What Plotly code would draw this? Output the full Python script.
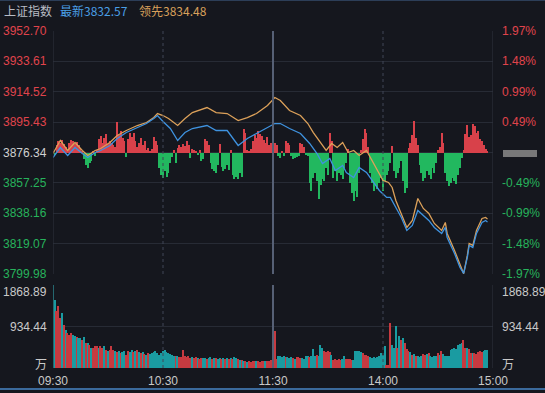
import plotly.graph_objects as go

# ---------------- data ----------------
prev_close = 3876.34
price_ticks = [3952.70, 3933.61, 3914.52, 3895.43, 3876.34, 3857.25, 3838.16, 3819.07, 3799.98]
pct_ticks = ["1.97%", "1.48%", "0.99%", "0.49%", "0.00%", "-0.49%", "-0.99%", "-1.48%", "-1.97%"]
vol_ticks = [0, 934.44, 1868.89]
vol_tick_text = ["万", "934.44", "1868.89"]
time_ticks = [0, 60, 120, 180, 240]
time_labels = ["09:30", "10:30", "11:30", "14:00", "15:00"]

# 最新 (latest index) — minute index since 09:30 (lunch break removed)
last_t = [0, 4, 8, 12, 16, 19, 23, 26, 31, 35, 40, 46, 51, 55, 57, 60, 64, 68, 72, 76, 84, 89, 95,
          101, 106, 111, 117, 121, 124, 129, 135, 140, 144, 147, 151, 154, 158, 160, 164, 167, 171,
          175, 178, 182, 184, 187, 190, 193, 196, 199, 202, 205, 208, 212, 214, 215, 219, 222, 224,
          226, 227, 229, 231, 234, 236, 237]
last_v = [3873.20, 3879.48, 3874.46, 3879.48, 3875.71, 3873.20, 3876.34, 3877.60, 3880.74, 3885.13,
          3888.90, 3892.04, 3894.55, 3897.69, 3899.58, 3895.81, 3891.41, 3883.88, 3888.90, 3891.41,
          3893.30, 3890.16, 3890.16, 3880.74, 3885.13, 3888.27, 3892.04, 3894.55, 3894.55, 3891.41,
          3888.27, 3882.00, 3875.71, 3869.43, 3872.57, 3865.04, 3868.18, 3863.78, 3860.64, 3866.92,
          3863.78, 3856.87, 3852.48, 3848.08, 3848.08, 3841.81, 3835.52, 3827.36, 3830.50, 3839.92,
          3836.78, 3833.64, 3829.24, 3825.47, 3829.24, 3822.96, 3812.92, 3804.12, 3800.35, 3810.40,
          3817.94, 3816.68, 3825.47, 3832.38, 3833.64, 3832.57]

# 领先 (leading index)
lead_t = [0, 4, 8, 12, 16, 19, 23, 26, 31, 35, 40, 46, 51, 55, 57, 60, 63, 68, 72, 76, 84, 89, 95,
          101, 106, 111, 117, 121, 124, 129, 135, 139, 142, 146, 149, 152, 155, 158, 161, 164, 167,
          171, 174, 177, 180, 183, 185, 187, 190, 193, 196, 199, 202, 205, 208, 212, 214, 215, 219,
          222, 224, 226, 227, 229, 231, 234, 236, 237]
lead_v = [3875.71, 3883.88, 3877.60, 3882.62, 3877.60, 3874.46, 3877.60, 3878.85, 3882.62, 3887.02,
          3890.16, 3893.30, 3895.18, 3898.32, 3900.83, 3899.58, 3897.69, 3893.30, 3897.69, 3901.46,
          3904.60, 3901.46, 3900.83, 3896.44, 3898.32, 3900.83, 3905.86, 3910.88, 3908.99, 3902.72,
          3899.58, 3894.55, 3888.90, 3882.00, 3877.60, 3882.00, 3879.48, 3882.62, 3876.34, 3877.60,
          3874.46, 3877.60, 3871.32, 3865.04, 3858.76, 3857.50, 3854.36, 3846.20, 3838.03, 3829.24,
          3833.64, 3847.45, 3841.17, 3838.03, 3831.75, 3827.36, 3832.38, 3825.47, 3814.80, 3806.64,
          3800.20, 3811.66, 3819.19, 3817.94, 3827.36, 3834.89, 3835.52, 3834.48]

# 买卖力道 style histogram, one value per minute (positive red, negative green)
strength = [2, -2, 8, 12, 10, 13, 9, 6, 3, 10, 13, 12, 9, 11, 8, 5, 2, -6, -12, -15,
            -10, -8, 2, -3, 3, 14, 17, 10, 15, 19, 9, 12, 10, 8, 6, 31, 18, 22, 15, 12,
            -4, 14, 20, 16, 20, 12, 6, 10, 15, 8, 12, 3, 5, 2, 4, 16, 12, 8, -15, -22,
            -25, -18, -24, -20, -10, -4, 3, -10, 5, 8, 6, 9, 7, 12, 8, -5, 4, 3, 2, -2,
            3, -8, -6, 14, 12, 8, -10, -16, -18, -20, -12, 9, -14, -18, -16, -12, -17, 3, -22, -26,
            -24, -26, -20, -24, 24, 20, 3, 2, 4, 12, 18, 15, 22, 19, 17, 13, 10, 16, 8, 10,
            4, 10, 8, -3, -5, 2, -3, 12, 10, 8, -3, -6, -5, -4, -3, 10, 9, 6, -2, -3,
            -30, -38, -25, -20, -28, -46, -32, -26, -28, -15, -22, 20, 12, -25, -18, -28, -20, -22, -26, -15,
            -10, 4, -30, -40, -48, -38, -44, -20, 3, 14, 24, 20, 6, -20, -30, -38, -32, -36, -30, -25,
            -38, -28, -22, -18, -10, 7, -18, -25, -20, -15, -8, -28, -40, -35, 5, 10, 18, 32, 15, 8,
            -12, -20, -28, -25, -18, -22, -26, -15, -20, -10, 3, 6, 20, 10, -20, -28, -33, -30, -25, -28,
            -31, -22, -15, -5, 3, 19, 28, 16, 18, 29, 27, 20, 22, 14, 12, 8, 4, 2]

# volume (万) per minute and direction (1 up / -1 down)
volume = [1869, 1530, 1280, 1400, 1130, 1240, 970, 860, 790, 740, 790, 740, 720, 700, 680, 680, 630, 700, 560, 560,
          520, 450, 450, 500, 500, 450, 500, 450, 500, 400, 380, 400, 500, 400, 380, 360, 380, 340, 360, 380,
          300, 380, 360, 400, 360, 380, 400, 360, 340, 360, 320, 300, 340, 320, 340, 360, 380, 340, 300, 340,
          380, 400, 360, 340, 320, 300, 280, 270, 260, 250, 240, 400, 270, 250, 260, 230, 250, 220, 240, 220,
          210, 230, 220, 230, 210, 220, 240, 210, 220, 230, 210, 220, 200, 230, 210, 220, 200, 230, 210, 250,
          220, 200, 190, 170, 160, 150, 140, 150, 140, 160, 150, 160, 150, 140, 160, 150, 160, 150, 160, 170,
          160, 830, 200, 280, 260, 250, 260, 240, 250, 230, 250, 220, 200, 240, 250, 230, 220, 200, 260, 280,
          250, 280, 430, 260, 300, 280, 510, 450, 380, 360, 380, 350, 300, 190, 200, 190, 200, 190, 200, 280,
          200, 210, 200, 190, 180, 380, 390, 380, 370, 330, 300, 290, 280, 240, 230, 250, 220, 240, 260, 340,
          300, 490, 60, 60, 1010, 520, 450, 940, 450, 710, 640, 680, 560, 420, 380, 360, 300, 320, 280, 260,
          250, 270, 320, 300, 310, 330, 260, 250, 280, 270, 340, 300, 380, 320, 260, 270, 280, 400, 420, 450,
          430, 520, 540, 560, 640, 460, 450, 420, 340, 330, 340, 320, 360, 380, 370, 390, 410, 400]
vol_dir = [-1, -1, 1, 1, 1, -1, 1, -1, 1, 1, 1, -1, -1, 1, -1, -1, 1, -1, 1, -1,
           1, -1, 1, 1, 1, -1, 1, 1, -1, 1, -1, 1, 1, 1, -1, 1, -1, 1, -1, -1,
           1, 1, -1, -1, 1, -1, 1, -1, 1, -1, 1, -1, 1, -1, -1, -1, -1, -1, -1, -1,
           -1, -1, -1, -1, -1, -1, -1, 1, -1, 1, 1, 1, 1, 1, 1, 1, -1, 1, 1, -1,
           1, 1, -1, -1, 1, -1, -1, 1, -1, 1, -1, -1, 1, -1, 1, -1, 1, -1, 1, -1,
           -1, 1, -1, 1, -1, 1, -1, 1, 1, 1, 1, -1, 1, 1, 1, 1, -1, 1, 1, 1,
           -1, 1, 1, -1, -1, -1, -1, 1, -1, -1, -1, 1, -1, 1, 1, 1, -1, -1, -1, -1,
           1, -1, -1, -1, 1, -1, -1, -1, 1, 1, 1, 1, -1, 1, 1, 1, 1, 1, -1, -1,
           1, 1, 1, 1, -1, -1, -1, -1, -1, 1, 1, 1, 1, -1, -1, -1, -1, -1, -1, -1,
           -1, -1, 1, 1, 1, -1, -1, -1, 1, -1, 1, -1, 1, 1, 1, -1, 1, -1, 1, -1,
           -1, -1, 1, 1, -1, 1, -1, -1, -1, -1, 1, -1, 1, -1, -1, -1, -1, -1, -1, -1,
           -1, -1, -1, -1, 1, 1, -1, 1, 1, -1, 1, 1, 1, 1, 1, -1, -1, -1]

minutes = list(range(len(strength)))
vol_minutes = list(range(len(volume)))

# ---------------- styling ----------------
W, H = 545, 393
BG = "#15171e"
GRID = "#272b35"
RED = "#e0444c"
GREEN = "#27b35c"
GREY = "#d0d0d0"
FONT = "Liberation Sans, Arial, sans-serif"
CJK = "Noto Sans CJK SC, sans-serif"

def px_x(p):
    return p / W

def px_y(p):
    return (H - p) / H

x_dom = [px_x(53), px_x(493)]
price_dom = [px_y(274), px_y(31)]
vol_dom = [px_y(368), px_y(285)]

fig = go.Figure()

fig.add_trace(go.Bar(
    x=minutes, y=strength, width=0.7,
    marker=dict(color=[("#d8414a" if v >= 0 else "#22b85f") for v in strength], line=dict(width=0)),
    xaxis="x", yaxis="y3", hoverinfo="skip", showlegend=False))

fig.add_trace(go.Scatter(
    x=lead_t, y=lead_v, mode="lines", line=dict(color="#dca15a", width=1.3),
    xaxis="x", yaxis="y4", showlegend=False, hoverinfo="skip"))
fig.add_trace(go.Scatter(
    x=last_t, y=last_v, mode="lines", line=dict(color="#3f93e0", width=1.3),
    xaxis="x", yaxis="y4", showlegend=False, hoverinfo="skip"))

fig.add_trace(go.Bar(
    x=vol_minutes, y=volume, width=0.8,
    marker=dict(color=[("#c63a40" if d > 0 else "#1a9ba1") for d in vol_dir], line=dict(width=0)),
    xaxis="x2", yaxis="y2", hoverinfo="skip", showlegend=False))

fig.update_layout(
    width=W, height=H, autosize=False,
    margin=dict(l=0, r=0, t=0, b=0, pad=0, autoexpand=False),
    paper_bgcolor=BG, plot_bgcolor=BG,
    showlegend=False,
    xaxis=dict(domain=x_dom, range=[0, 240], anchor="y", showgrid=False, zeroline=False,
               showticklabels=False, ticks="", automargin=False),
    yaxis=dict(domain=price_dom, range=[price_ticks[-1], price_ticks[0]], tickvals=price_ticks,
               showgrid=True, gridcolor=GRID, gridwidth=1, zeroline=False, showticklabels=False,
               anchor="x", automargin=False),
    yaxis3=dict(overlaying="y", range=[-121.5, 121.5], visible=False, anchor="x", automargin=False),
    yaxis4=dict(overlaying="y", range=[price_ticks[-1], price_ticks[0]], visible=False, anchor="x",
                automargin=False),
    xaxis2=dict(domain=x_dom, range=[0, 240], anchor="y2", showgrid=False, zeroline=False,
                tickvals=time_ticks, ticktext=time_labels, ticks="", automargin=False,
                ticklabelstandoff=4,
                tickfont=dict(family=FONT, size=12, color="#c9c9c9")),
    yaxis2=dict(domain=vol_dom, range=[0, vol_ticks[-1]], tickvals=vol_ticks, showgrid=True,
                gridcolor=GRID, zeroline=False, showticklabels=False, anchor="x2", automargin=False),
    bargap=0,
)

shapes = []
# panel borders
for dom in (price_dom, vol_dom):
    for xv in (0, 240):
        shapes.append(dict(type="line", xref="x", yref="paper", x0=xv, x1=xv, y0=dom[0], y1=dom[1],
                           line=dict(color="#30343f", width=1)))
    for xv, dash, col, w in ((60, "dot", "#414756", 1), (180, "dot", "#414756", 1), (120, "solid", "#566075", 2)):
        shapes.append(dict(type="line", xref="x", yref="paper", x0=xv, x1=xv, y0=dom[0], y1=dom[1],
                           line=dict(color=col, width=w, dash=dash)))
# grey marker for the 0.00% level on the right scale
shapes.append(dict(type="rect", xref="paper", yref="paper", x0=px_x(503), x1=px_x(537),
                   y0=px_y(157), y1=px_y(150), fillcolor="#8a8a8a", line=dict(width=0), opacity=0.85))
# top & bottom frame lines
shapes.append(dict(type="line", xref="paper", yref="paper", x0=0, x1=1, y0=px_y(389), y1=px_y(389),
                   line=dict(color="#3b6a9c", width=2)))
shapes.append(dict(type="line", xref="paper", yref="paper", x0=0, x1=1, y0=px_y(0.5), y1=px_y(0.5),
                   line=dict(color="#2c3e58", width=1)))
fig.update_layout(shapes=shapes)

ann = []
for i, (pv, pt) in enumerate(zip(price_ticks, pct_ticks)):
    if pv > prev_close:
        col = RED
    elif pv < prev_close:
        col = GREEN
    else:
        col = GREY
    ann.append(dict(x=px_x(49), y=pv, xref="paper", yref="y", text=f"{pv:.2f}", showarrow=False,
                    xanchor="right", yanchor="middle", font=dict(family=FONT, size=12, color=col)))
    if pv != prev_close:
        ann.append(dict(x=px_x(500), y=pv, xref="paper", yref="y", text=pt, showarrow=False,
                        xanchor="left", yanchor="middle", font=dict(family=FONT, size=12, color=col)))

vol_label_pos = {0: 363, 934.44: 327, 1868.89: 292}
for vv, vt in zip(vol_ticks, vol_tick_text):
    fam = CJK if vt == "万" else FONT
    ann.append(dict(x=px_x(49), y=px_y(vol_label_pos[vv]), xref="paper", yref="paper", text=vt,
                    showarrow=False, xanchor="right", yanchor="middle",
                    font=dict(family=fam, size=12, color="#c9c9c9")))
    ann.append(dict(x=px_x(500), y=px_y(vol_label_pos[vv]), xref="paper", yref="paper", text=vt,
                    showarrow=False, xanchor="left", yanchor="middle",
                    font=dict(family=fam, size=12, color="#c9c9c9")))

hy = px_y(11)
ann.append(dict(x=px_x(2), y=hy, xref="paper", yref="paper", text="上证指数", showarrow=False,
                xanchor="left", yanchor="middle", font=dict(family=CJK, size=12, color="#b8bcc4")))
ann.append(dict(x=px_x(58), y=hy, xref="paper", yref="paper", text=f"最新{last_v[-1]:.2f}", showarrow=False,
                xanchor="left", yanchor="middle", font=dict(family=CJK, size=12, color="#4a9fe6")))
ann.append(dict(x=px_x(137), y=hy, xref="paper", yref="paper", text=f"领先{lead_v[-1]:.2f}", showarrow=False,
                xanchor="left", yanchor="middle", font=dict(family=CJK, size=12, color="#d9a05b")))
fig.update_layout(annotations=ann)

fig.write_html("out.html", config={"displayModeBar": False, "responsive": False},
               post_script="document.body.style.margin='0';")
